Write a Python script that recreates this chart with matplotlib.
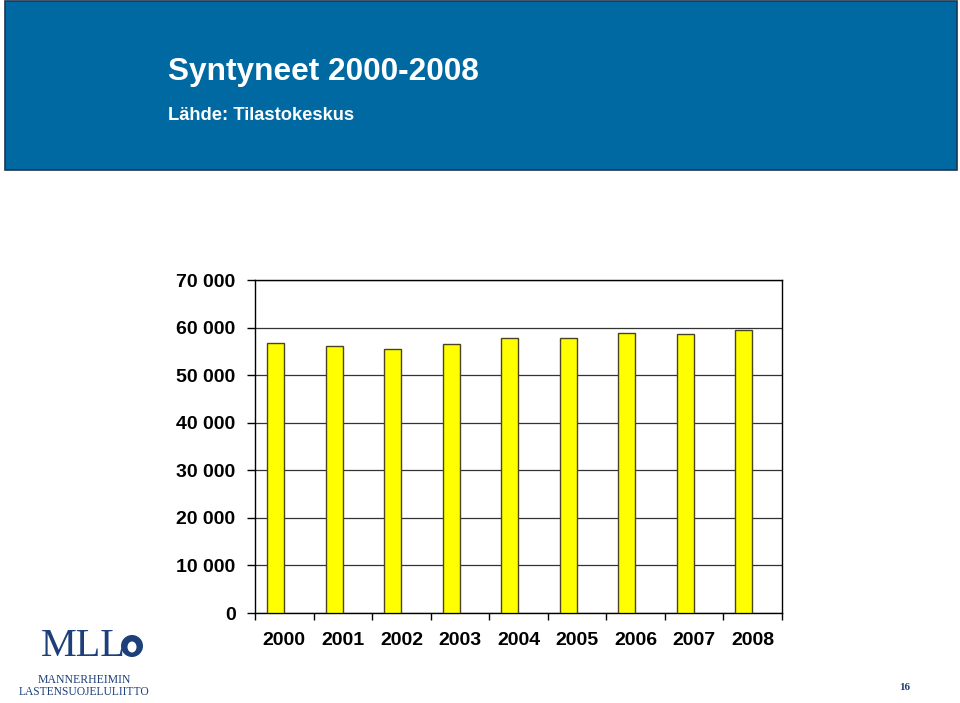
import matplotlib.pyplot as plt
from matplotlib.patches import Rectangle, Ellipse
from matplotlib.ticker import FuncFormatter, MultipleLocator
import numpy as np

years = ['2000', '2001', '2002', '2003', '2004', '2005', '2006', '2007', '2008']
births = [56742, 56189, 55555, 56630, 57758, 57745, 58840, 58729, 59530]

plt.rcParams['font.family'] = ['Liberation Sans', 'DejaVu Sans']

fig = plt.figure(figsize=(9.6, 7.03), dpi=100)

# blue header band
fig.patches.append(Rectangle((5 / 960, 1 - 170 / 703), 952 / 960, 169 / 703,
                             transform=fig.transFigure, facecolor='#0069a1',
                             edgecolor='#1f3550', linewidth=1.2, zorder=0))
fig.text(168 / 960, 1 - 72 / 703, 'Syntyneet 2000-2008', color='white',
         fontsize=22.8, fontweight='bold', va='center', ha='left')
fig.text(168 / 960, 1 - 115 / 703, 'Lähde: Tilastokeskus', color='white',
         fontsize=13.2, fontweight='bold', va='center', ha='left')

ax = fig.add_axes([255 / 960, 1 - 613 / 703, 527 / 960, 333 / 703])
x = np.arange(len(years))
# Excel-style offset: bar sits just left of the category centre
ax.bar(x - 0.15, births, width=0.29, color='#ffff00', edgecolor='#4a4520',
       linewidth=1.0, zorder=3)

ax.set_xlim(-0.5, len(years) - 0.5)
ax.set_ylim(0, 70000)
ax.yaxis.set_major_locator(MultipleLocator(10000))
ax.yaxis.set_major_formatter(FuncFormatter(lambda v, p: f'{int(v):,}'.replace(',', ' ')))
ax.grid(axis='y', color='#333333', linewidth=0.9, zorder=0)

ax.set_xticks(x)
ax.set_xticklabels(years)
ax.set_xticks(np.arange(-0.5, len(years)), minor=True)
ax.tick_params(axis='x', which='major', length=0, pad=14, labelsize=14)
ax.tick_params(axis='x', which='minor', length=5, width=1, direction='out')
ax.tick_params(axis='y', length=6, width=1, direction='out', pad=8, labelsize=14)
for lab in ax.get_xticklabels() + ax.get_yticklabels():
    lab.set_fontweight('bold')
for sp in ax.spines.values():
    sp.set_color('black')
    sp.set_linewidth(1.0)

# logo
navy = '#1d3f7a'
fig.text(41 / 960, 1 - 647 / 703, 'MLL', color=navy, fontsize=29,
         family='Liberation Serif', va='center', ha='left')
fig.patches.append(Ellipse((132 / 960, 1 - 646 / 703), 22 / 960, 22 / 703,
                           transform=fig.transFigure, facecolor=navy,
                           edgecolor='none'))
fig.patches.append(Ellipse((132 / 960, 1 - 647 / 703), 9 / 960, 11 / 703,
                           transform=fig.transFigure, facecolor='white',
                           edgecolor='none'))
fig.text(84 / 960, 1 - 680 / 703, 'MANNERHEIMIN', color=navy, fontsize=8.5,
         family='Liberation Serif', va='center', ha='center')
fig.text(84 / 960, 1 - 692 / 703, 'LASTENSUOJELULIITTO', color=navy, fontsize=8.3,
         family='Liberation Serif', va='center', ha='center')

fig.text(905 / 960, 1 - 688 / 703, '16', color=navy, fontsize=8,
         family='Liberation Serif', fontweight='bold', va='center', ha='center')

fig.savefig('out.png', dpi=100)
